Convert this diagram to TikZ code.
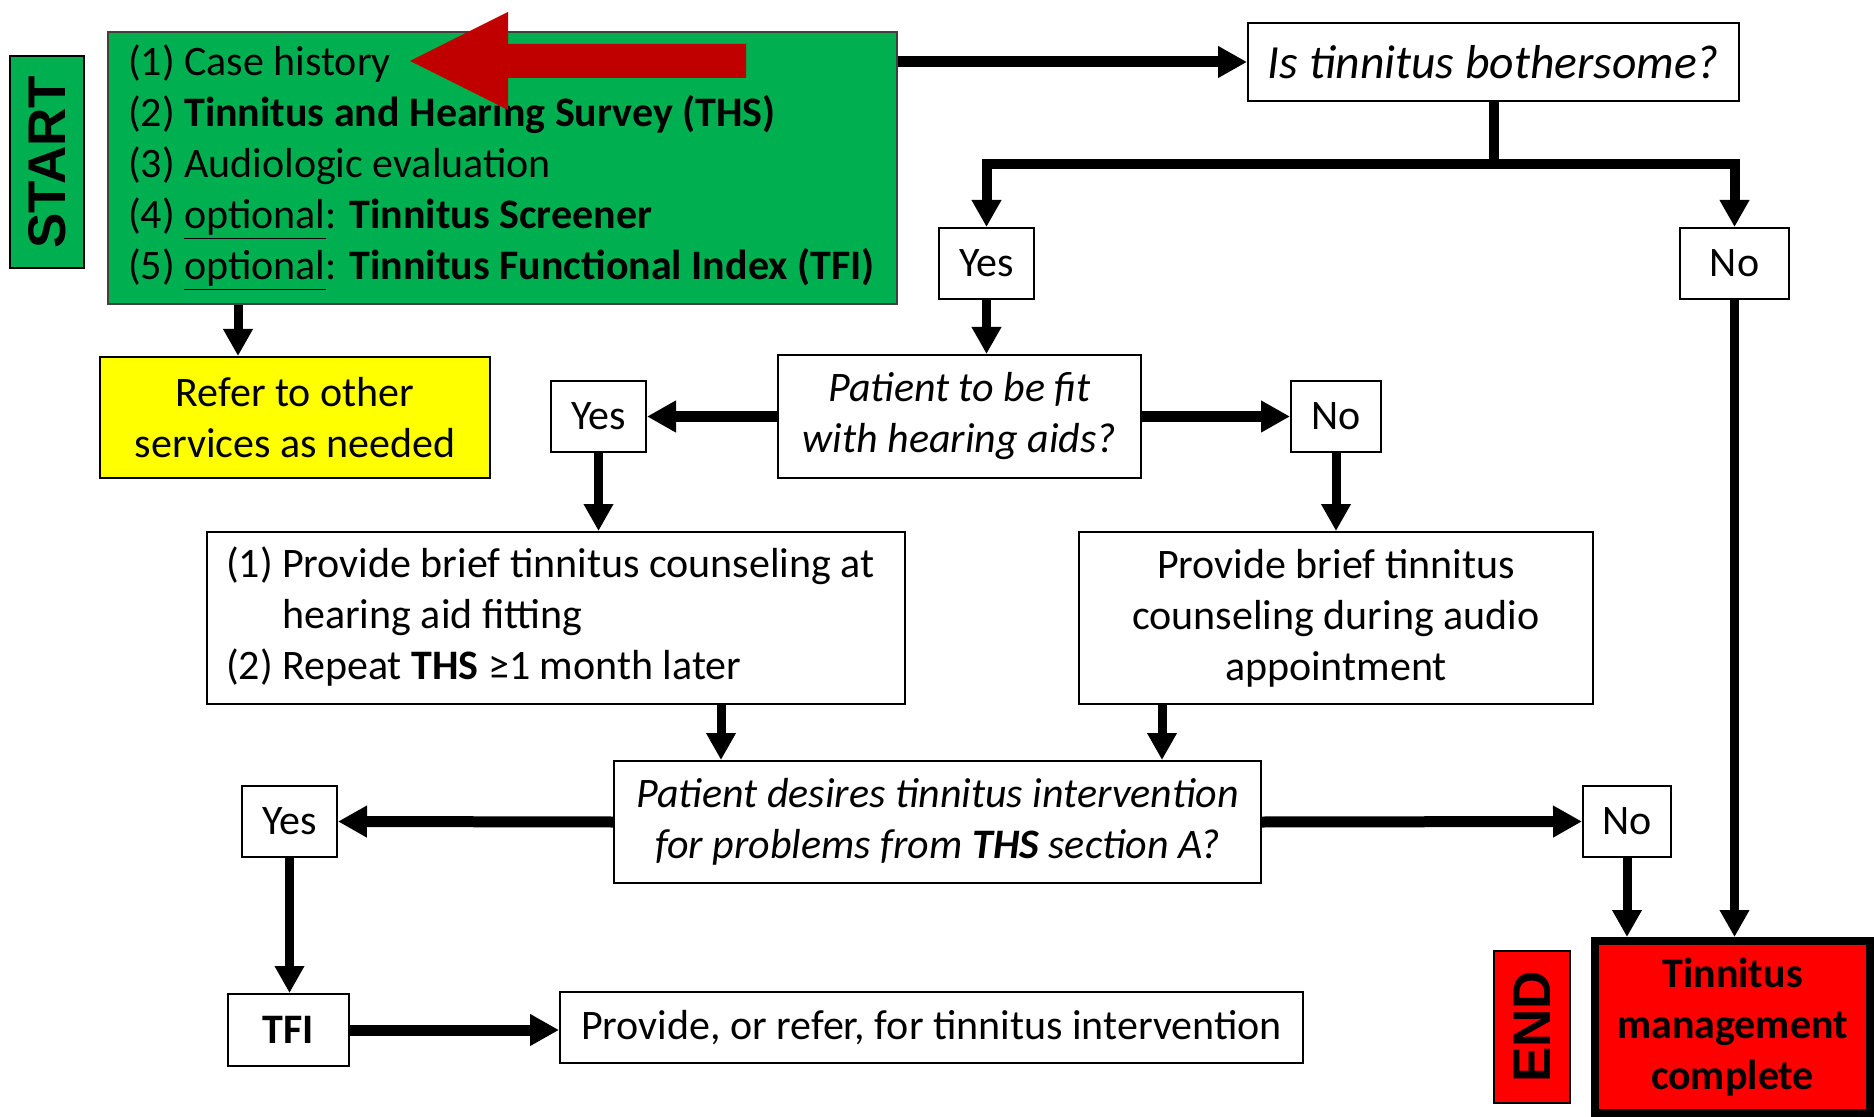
\documentclass[tikz,border=0pt]{standalone}
\usepackage{fontspec}
\setmainfont{Carlito}
\newfontfamily\heavy{Liberation Sans}
\usetikzlibrary{arrows.meta}
\definecolor{boxgreen}{HTML}{00B050}
\definecolor{darkred}{HTML}{C00000}
\definecolor{boxyellow}{HTML}{FFFF00}
\definecolor{boxred}{HTML}{FF0000}
\begin{document}
\begin{tikzpicture}[x={(0.5pt,0)}, y={(0,-0.5pt)},
  box/.style={draw=black, line width=1pt, inner sep=0pt, text=black,
    font=\fontsize{21}{25.5}\selectfont},
  sz/.style 2 args={minimum width=#1*0.5pt, minimum height=#2*0.5pt},
  itfont/.style={font=\fontsize{21}{25.5}\selectfont\itshape},
  harrow/.style={line width=5.5pt, -{Triangle[length=14.5pt,width=15pt]}},
  varrow/.style={line width=4.5pt, -{Triangle[length=13.5pt,width=14pt]}},
  forkline/.style={line width=5pt},
  tag/.style={box, rotate=90, font=\heavy\bfseries\fontsize{26.5}{30}\selectfont}]

\useasboundingbox (0,0) rectangle (1874,1117);

% start / end tags
\node[tag, fill=boxgreen, sz={212}{74}] (start) at (47,162) {START};
\node[tag, fill=boxred, sz={152}{76}] (endtag) at (1532,1027) {END};

% first step: history and surveys
\node[box, fill=boxgreen, draw=black!75, sz={789}{272}, text width=374.5pt,
      inner xsep=10pt, align=flush left] (hist) at (502.5,168)
  {(1) Case history\\
   (2) \textbf{Tinnitus and Hearing Survey (THS)}\\
   (3) Audiologic evaluation\\
   (4) \underline{optional}: \textbf{Tinnitus Screener}\\
   (5) \underline{optional}: \textbf{Tinnitus Functional Index (TFI)}};

% highlight arrow pointing at the case history
\fill[darkred] (410,61) -- (508,12) -- (508,44) -- (746,44) -- (746,78)
  -- (508,78) -- (508,110) -- cycle;

\node[box, fill=boxyellow, sz={390}{121}, align=flush center] (refer) at (295,417.5)
  {Refer to other\\services as needed};

% questions and answers
\node[box, sz={491}{78}, font=\fontsize{23.8}{28}\selectfont\itshape] (bother) at (1493.5,62)
  {Is tinnitus bothersome?};
\node[box, sz={95}{71}] (yes1) at (986.5,263.5) {Yes};
\node[box, sz={109}{71}] (no1) at (1734.5,263.5) {No};

\node[box, itfont, sz={363}{123}, align=flush center] (fit) at (959.5,416.5)
  {Patient to be fit\\with hearing aids?};
\node[box, sz={95}{71}] (yes2) at (598.5,416.5) {Yes};
\node[box, sz={90}{71}] (no2) at (1336,416.5) {No};

\node[box, sz={698}{172}, text width=330pt, inner xsep=9.5pt, align=flush left] (hafit) at (556,618)
  {\begin{tabular}{@{}l@{ }l@{}}
   (1) & Provide brief tinnitus counseling at\\
       & hearing aid fitting\\
   (2) & Repeat \textbf{THS} ≥1 month later
   \end{tabular}};
\node[box, sz={514}{172}, align=flush center] (audio) at (1336,618)
  {Provide brief tinnitus\\counseling during audio\\appointment};

\node[box, itfont, sz={647}{122}, align=flush center] (desire) at (937.5,822)
  {Patient desires tinnitus intervention\\for problems from \textbf{THS} section A?};
\node[box, sz={95}{71}] (yes3) at (289.5,821.5) {Yes};
\node[box, sz={88}{71}] (no3) at (1627,821.5) {No};

\node[box, sz={121}{72}, font=\fontsize{21}{25.5}\selectfont\bfseries] (tfi) at (288.5,1030) {TFI};
\node[box, sz={743}{71}] (interv) at (931.5,1027.5)
  {Provide, or refer, for tinnitus intervention};

\node[box, fill=boxred, line width=4pt, sz={275}{172}, align=flush center,
      font=\fontsize{21}{25.5}\selectfont\bfseries] (done) at (1732.5,1027)
  {Tinnitus\\management\\complete};

% connectors
\draw[harrow] (bother.west -| hist.east) -- (bother.west);
\draw[varrow] (hist.south -| 238,0) -- (refer.north -| 238,0);

\path (bother.south) ++(0,62) coordinate (fork);
\draw[forkline] (bother.south) -- (fork);
\draw[forkline, -{Triangle[length=13.5pt,width=14pt]}] (fork) -| (yes1.north);
\draw[forkline, -{Triangle[length=13.5pt,width=14pt]}] (fork) -| (no1.north);

\draw[varrow] (yes1.south) -- (yes1.south |- fit.north);
\draw[harrow] (fit.west) -- (yes2.east);
\draw[harrow] (fit.east) -- (no2.west);
\draw[varrow] (yes2.south) -- (yes2.south |- hafit.north);
\draw[varrow] (no2.south) -- (no2.south |- audio.north);

\draw[varrow] (hafit.south -| 721,0) -- (desire.north -| 721,0);
\draw[varrow] (audio.south -| 1162,0) -- (desire.north -| 1162,0);

\draw[harrow] (desire.west) -- (yes3.east);
\draw[harrow] (desire.east) -- (no3.west);
\draw[varrow] (yes3.south) -- (yes3.south |- tfi.north);
\draw[harrow] (tfi.east) -- (tfi.east -| interv.west);

\draw[varrow] (no3.south) -- (no3.south |- done.north);
\draw[varrow] (no1.south) -- (no1.south |- done.north);
\end{tikzpicture}
\end{document}
